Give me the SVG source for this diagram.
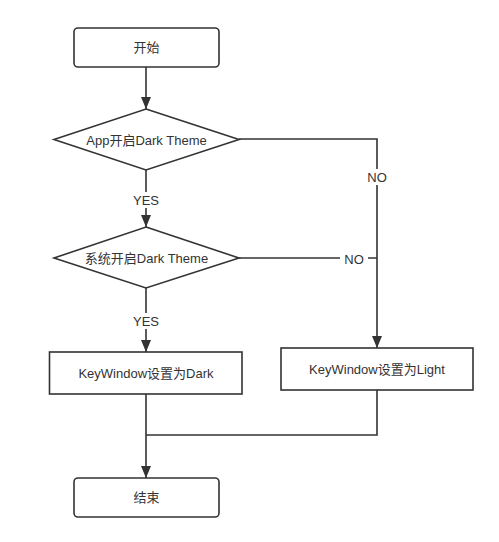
<svg xmlns="http://www.w3.org/2000/svg" width="499" height="542" viewBox="0 0 499 542">
<style>
.n{fill:#fff;stroke:#333;stroke-width:1.6}
.c{fill:none;stroke:#333;stroke-width:1.6}
.t{font-family:"Liberation Sans","Noto Sans CJK SC",sans-serif;font-size:13px;fill:#333;text-anchor:middle;dominant-baseline:central}
.lb{fill:#fff}
</style>
<defs>
<marker id="ar" markerWidth="12" markerHeight="10" refX="12" refY="5" orient="auto" markerUnits="userSpaceOnUse" viewBox="0 0 12 10">
<path d="M0,0 L12,5 L0,10 Z" fill="#333"/>
</marker>
</defs>
<g id="connectors">
<path class="c" d="M146,67 V109" marker-end="url(#ar)"/>
<path class="c" d="M146,170 V227" marker-end="url(#ar)"/>
<path class="c" d="M239,139 H377 V348" marker-end="url(#ar)"/>
<path class="c" d="M239,258 H377"/>
<path class="c" d="M146,288 V352" marker-end="url(#ar)"/>
<path class="c" d="M146,394 V478" marker-end="url(#ar)"/>
<path class="c" d="M377,390 V435 H146"/>
<rect class="lb" x="129" y="192" width="34" height="16"/>
<text class="t" x="146" y="200">YES</text>
<rect class="lb" x="363" y="169" width="28" height="16"/>
<text class="t" x="377" y="177">NO</text>
<rect class="lb" x="340" y="251" width="28" height="16"/>
<text class="t" x="354" y="259">NO</text>
<rect class="lb" x="129" y="313" width="34" height="16"/>
<text class="t" x="146" y="321">YES</text>
</g>
<g id="start">
<rect class="n" x="74" y="28" width="145" height="39" rx="4"/>
<text class="t" x="146.5" y="47.5">开始</text>
</g>
<g id="d1">
<polygon class="n" points="146,109 239,139.5 146,170 54,139.5"/>
<text class="t" x="146.5" y="140">App开启Dark Theme</text>
</g>
<g id="d2">
<polygon class="n" points="146,227 239,258 146,288 54,258"/>
<text class="t" x="146.5" y="258.5">系统开启Dark Theme</text>
</g>
<g id="dark">
<rect class="n" x="49.5" y="352" width="192.5" height="42"/>
<text class="t" x="146" y="373">KeyWindow设置为Dark</text>
</g>
<g id="light">
<rect class="n" x="281" y="348" width="192" height="42"/>
<text class="t" x="377" y="369.5">KeyWindow设置为Light</text>
</g>
<g id="end">
<rect class="n" x="74" y="478" width="145" height="39" rx="4"/>
<text class="t" x="146.5" y="497.5">结束</text>
</g>
</svg>
